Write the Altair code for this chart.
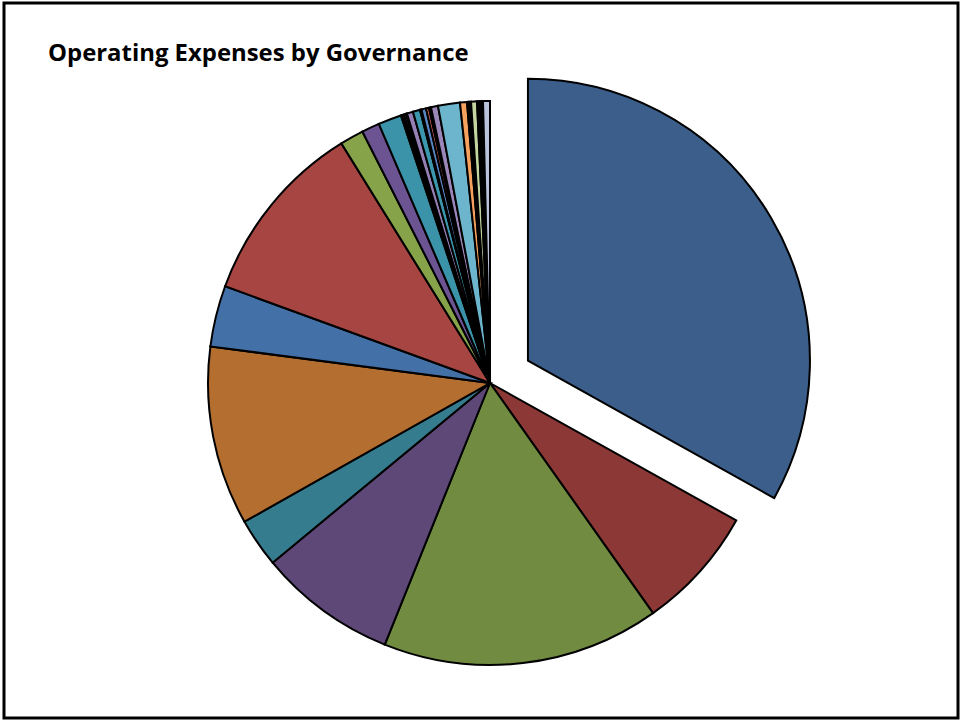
import altair as alt
import pandas as pd

# Estimated shares (degrees of the full circle)
categories = [f"Group {i}" for i in range(1, 32)]
values = [119.1, 25.5, 57.2, 28.5, 10.1, 36.9, 12.6, 38.1, 4.9, 3.7, 4.8,
          0.21, 0.43, 0.43, 0.21, 1.27, 1.48, 0.31, 0.94, 0.63, 0.41,
          1.45, 4.52, 1.43, 0.41, 0.41, 1.22, 0.41, 0.40, 0.41, 1.42]
explode = [44] + [0] * 30
colors = ["#3B5E8B", "#8C3836", "#718B41", "#5E4878", "#357D8E", "#B46E30",
          "#4470A8", "#A64542", "#86A34A", "#6C5391", "#3A93A9",
          "#E07C2E", "#7A9BD0", "#D0706E", "#AECB7A", "#9580B6", "#3C96AC",
          "#F08A3C", "#5B86C4", "#C95B58", "#9FBF62", "#9B86B8", "#6CB5CC",
          "#F6A25E", "#8FA9D6", "#D98A88", "#C4D6A0", "#A897C4", "#8CC8D8",
          "#F8B888", "#B9C4DC"]
title_text = "Operating Expenses by Governance"

df = pd.DataFrame({"cat": categories, "value": values, "explode": explode,
                   "idx": list(range(len(values)))})

CX, CY, R = 490, 383, 282

pie = alt.Chart(df).transform_joinaggregate(
    total="sum(value)"
).transform_window(
    cum="sum(value)", sort=[alt.SortField("idx")], frame=[None, 0]
).transform_calculate(
    start="(datum.cum - datum.value) / datum.total",
    end="datum.cum / datum.total",
).transform_calculate(
    mid="(datum.start + datum.end) * PI",
).transform_calculate(
    px=f"{CX} + datum.explode * sin(datum.mid)",
    py=f"{CY} - datum.explode * cos(datum.mid)",
).mark_arc(radius=R, stroke="black", strokeWidth=2, strokeJoin="miter").encode(
    theta=alt.Theta("start:Q", scale=alt.Scale(domain=[0, 1]), stack=None),
    theta2="end:Q",
    x=alt.X("px:Q", scale=None),
    y=alt.Y("py:Q", scale=None),
    color=alt.Color("cat:N", scale=alt.Scale(domain=categories, range=colors), legend=None),
    order=alt.Order("idx:Q"),
)

frame = alt.Chart(pd.DataFrame({"a": [0]})).mark_rect(
    fill="white", stroke="black", strokeWidth=3
).encode(x=alt.value(4), x2=alt.value(958), y=alt.value(3), y2=alt.value(718))

title = alt.Chart(pd.DataFrame({"t": [title_text]})).mark_text(
    align="left", baseline="alphabetic", font="Open Sans", fontWeight="bold",
    fontSize=23.9, color="black"
).encode(x=alt.value(48), y=alt.value(61), text="t:N")

chart = alt.layer(frame, pie, title).properties(
    width=961, height=721, padding=0, autosize=alt.AutoSizeParams(type="none")
).configure_view(stroke=None)

chart.save("out.html", embed_options={"renderer": "svg", "actions": False})
